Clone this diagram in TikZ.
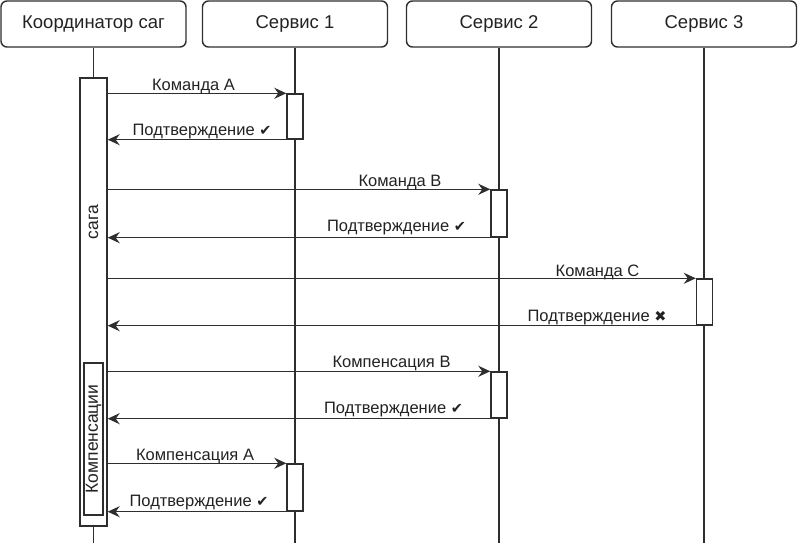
\documentclass[tikz,border=0pt]{standalone}
\usepackage{fontspec}
\setmainfont{Liberation Sans}
\newfontfamily\symfont{DejaVu Sans}
\usetikzlibrary{arrows.meta}
\definecolor{lc}{HTML}{2E2E2E}
\definecolor{tc}{HTML}{222222}
\begin{document}
\begin{tikzpicture}[x=1pt,y=-1pt,
  head/.style={draw=lc, line width=1.4pt, rounded corners=6pt, minimum width=185pt, minimum height=46pt, inner sep=0pt, text=tc, font=\fontsize{18.5}{22}\selectfont},
  act/.style={draw=lc, line width=1.4pt, fill=white, inner sep=0pt},
  life/.style={draw=lc, line width=1.4pt},
  msg/.style={draw=lc, line width=1.4pt, -{Stealth[length=12pt,width=11pt,inset=4pt]}},
  lbl/.style={anchor=base, inner sep=0pt, text=tc, font=\fontsize{16.5}{19}\selectfont},
  vlbl/.style={rotate=90, inner sep=0pt, text=tc, font=\fontsize{17.5}{20}\selectfont}]
\useasboundingbox (0,0) rectangle (798,543);
\coordinate (bot) at (0,543);
% headers
\node[head] (h0) at (93.5,24) {Координатор саг};
\node[head] (h1) at (295,24) {Сервис 1};
\node[head] (h2) at (499,24) {Сервис 2};
\node[head] (h3) at (704,24) {Сервис 3};
% lifelines
\draw[life] (h1.south) -- (h1.south |- bot);
\draw[life] (h2.south) -- (h2.south |- bot);
\draw[life] (h3.south) -- (h3.south |- bot);
% coordinator activation
\node[act, minimum width=27pt, minimum height=448pt] (a0) at (93.5,302) {};
\draw[life] (h0.south) -- (a0.north);
\draw[life] (a0.south) -- (a0.south |- bot);
\node[act, minimum width=19pt, minimum height=152pt] (comp) at (93.5,439) {};
\node[vlbl] (compl) at (comp.center) {Компенсации};
\node[vlbl] (saga) at (93.5,222) {сага};
% service activations
\node[act, minimum width=16pt, minimum height=45pt] (s1a) at (295,116.5) {};
\node[act, minimum width=16pt, minimum height=47pt] (s2a) at (499,213.5) {};
\node[act, minimum width=16pt, minimum height=46pt] (s3a) at (704.5,302) {};
\node[act, minimum width=16pt, minimum height=46pt] (s2b) at (499,395) {};
\node[act, minimum width=16pt, minimum height=47pt] (s1b) at (295,487.5) {};
% messages
\draw[msg] (a0.east |- s1a.north west) -- (s1a.north west);
\draw[msg] (s1a.south west) -- (a0.east |- s1a.south west);
\draw[msg] (a0.east |- s2a.north west) -- (s2a.north west);
\draw[msg] (s2a.south west) -- (a0.east |- s2a.south west);
\draw[msg] (a0.east |- s3a.north west) -- (s3a.north west);
\draw[msg] (s3a.south west) -- (a0.east |- s3a.south west);
\draw[msg] (a0.east |- s2b.north west) -- (s2b.north west);
\draw[msg] (s2b.south west) -- (a0.east |- s2b.south west);
\draw[msg] (a0.east |- s1b.north west) -- (s1b.north west);
\draw[msg] (s1b.south west) -- (a0.east |- s1b.south west);
% labels
\node[lbl] (l1) at (193.5,90) {Команда A};
\node[lbl] (l2) at (202,135) {Подтверждение {\symfont\fontsize{14.5}{17}\selectfont ✔}};
\node[lbl] (l3) at (400,186) {Команда B};
\node[lbl] (l4) at (396.5,231) {Подтверждение {\symfont\fontsize{14.5}{17}\selectfont ✔}};
\node[lbl] (l5) at (597.5,276) {Команда C};
\node[lbl] (l6) at (597,321) {Подтверждение {\symfont\fontsize{14.5}{17}\selectfont ✖}};
\node[lbl] (l7) at (391.5,367) {Компенсация B};
\node[lbl] (l8) at (393.5,413) {Подтверждение {\symfont\fontsize{14.5}{17}\selectfont ✔}};
\node[lbl] (l9) at (195,460) {Компенсация A};
\node[lbl] (l10) at (199,506) {Подтверждение {\symfont\fontsize{14.5}{17}\selectfont ✔}};
\end{tikzpicture}
\end{document}
